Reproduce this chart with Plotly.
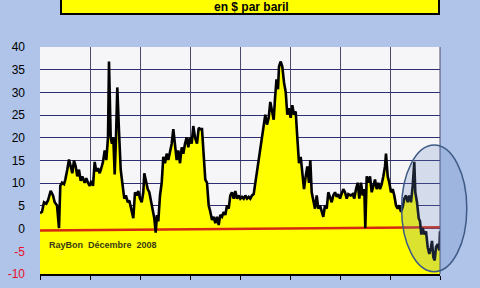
import plotly.graph_objects as go

# x: period index (50 units per year, 8 years), y: spread in $ per barrel
x_vals = [0, 2, 4, 6.3, 8, 10.7, 13, 14.7, 17, 19, 20.3, 22, 24, 25.3, 27.3, 29, 30.7, 32.3, 34, 35.7,
          37.3, 39, 40.7, 42.3, 44.7, 46.3, 48, 49.7, 51.3, 53, 54.7, 56.3, 58, 59.7, 61.3, 63, 64.7, 66.3,
          68, 69, 70.7, 72, 73.3, 74.7, 76, 77.3, 79, 80.7, 82.3, 84.3, 86, 87.7, 89.3, 91, 93.3, 95,
          96.7, 98.3, 100, 101.7, 103.3, 104.3, 106, 107.7, 109.3, 111, 112.7, 114.3, 115.7, 117, 118.3,
          120, 121.7, 123.3, 125, 126.7, 128.3, 130, 131.7, 133.3, 135, 136.7, 138.3, 140, 141.7, 143.3,
          145, 146.7, 148.3, 150, 151.7, 153.3, 155, 157, 158.7, 160.3, 162, 163.7, 165.3, 167, 168.7,
          170.3, 172, 173.7, 175.3, 177, 178.7, 180.3, 182, 183.7, 185.3, 187, 188.7, 190.3, 192, 193.7,
          195.3, 197, 198.7, 200.3, 202, 203.7, 205.3, 207, 208.7, 210.3, 212, 213.7, 215.3, 217, 218.7,
          220.3, 222, 223.7, 225.3, 227, 228.7, 230.3, 232, 233.7, 235, 236.5, 238, 239, 240.7, 242.3,
          244, 245.7, 247.3, 249, 250.7, 252.3, 254, 255.7, 257.3, 259, 260.7, 262.3, 264, 265.7, 267.3,
          269, 270.3, 271.7, 273.3, 275, 276.7, 278.3, 280, 281.7, 283.3, 285, 286.7, 288.3, 290, 291.7,
          293.3, 295, 296.7, 298.3, 300, 301.7, 303.3, 305, 306.7, 308.3, 310.7, 312.7, 314.3, 316, 317.7,
          319.3, 321, 322.7, 324.3, 325.3, 326.7, 328.3, 330, 331.7, 333.3, 335, 336.7, 338.3, 340, 341.7,
          343.3, 345, 346, 347.7, 349.3, 351, 352.7, 354.3, 356, 357.7, 359.3, 361, 362.7, 364.3, 366,
          367.7, 369.3, 371, 372.7, 374.3, 375.3, 377, 378.7, 380, 381.3, 382.7, 384.3, 386, 387.7, 389.3,
          391, 392, 393.3, 394.7, 396, 397.7, 399.3, 400]
y_vals = [3.4, 3.7, 5.8, 5.5, 6.2, 8.3, 7.3, 5.8, 5.1, 0.1, 9.4, 10.1, 9.8, 10.8, 13.0, 15.2, 13.7, 12.2, 15.0, 13.7,
          11.5, 13.0, 10.5, 11.5, 10.1, 11.1, 10.1, 9.4, 10.5, 9.4, 14.7, 12.6, 13.3, 12.2, 13.3, 14.7, 17.2, 15.1,
          20.1, 36.8, 20.1, 18.7, 20.1, 11.9, 20.0, 31.1, 21.5, 13.0, 10.1, 6.6, 7.3, 5.8, 6.2, 4.8, 2.3, 8.0,
          7.3, 8.3, 6.6, 5.8, 8.0, 12.2, 10.1, 8.7, 8.0, 5.8, 4.4, 2.3, -0.9, 3.0, 1.6,
          7.3, 10.1, 15.8, 14.4, 16.5, 15.1, 16.9, 18.7, 21.9, 18.7, 15.1, 17.2, 14.4, 17.9, 16.5,
          18.7, 20.1, 17.9, 20.1, 18.7, 22.6, 20.1, 18.7, 22.2, 21.9, 21.9, 17.2, 10.8, 10.1, 5.1,
          3.7, 1.9, 2.6, 1.2, 2.6, 0.8, 3.0, 2.6, 3.7, 3.0, 5.1, 4.4, 7.3, 8.0, 6.6,
          8.3, 6.6, 7.3, 6.6, 7.0, 6.6, 7.3, 6.6, 7.0, 6.6, 7.3, 7.6, 10.1, 12.2, 15.1,
          17.2, 19.4, 22.9, 25.1, 22.9, 24.4, 27.9, 25.5, 24.0, 28.6, 32.9, 30.7, 35.7, 36.8, 35.7,
          32.2, 30.1, 25.1, 26.5, 24.4, 27.2, 25.1, 25.8, 20.1, 14.4, 15.8, 12.2, 8.7, 11.5, 13.7,
          10.1, 15.1, 8.0, 5.8, 4.4, 7.3, 4.4, 5.1, 3.7, 2.6, 5.1, 4.4, 8.0, 6.6, 5.8,
          7.3, 8.0, 7.0, 7.6, 6.6, 8.0, 8.7, 8.0, 6.6, 7.6, 7.3, 7.6, 6.6, 8.7, 10.1,
          6.6, 10.1, 7.3, 8.7, 0.1, 11.5, 10.1, 11.5, 8.0, 9.4, 10.8, 8.7, 10.1, 8.7, 9.8,
          11.5, 13.7, 16.5, 11.5, 10.1, 8.0, 8.7, 7.3, 5.1, 4.4, 5.1, 3.7, 4.8, 6.6, 7.3,
          5.8, 7.3, 5.8, 9.4, 14.7, 8.0, 5.8, 2.3, 1.6, -1.3, 0.1, -1.3, -0.6, -4.1, -5.6,
          -4.1, -2.7, -6.3, -7.0, -4.1, -3.4, -4.8, -0.6]
trend_x = [0, 400]
trend_y = [-0.4, 0.3]
y_ticks = [-10, -5, 0, 5, 10, 15, 20, 25, 30, 35, 40]
y_floor = -10

ticktext = []
for v in y_ticks:
    if v < 0:
        ticktext.append(f"<span style='color:#e8102a'>{v}</span>")
    else:
        ticktext.append(str(v))

fig = go.Figure()
fig.add_trace(go.Scatter(x=[x_vals[0], x_vals[-1]], y=[y_floor, y_floor], mode="lines",
                         line=dict(width=0), showlegend=False, hoverinfo="skip"))
fig.add_trace(go.Scatter(x=x_vals, y=y_vals, mode="lines", fill="tonexty",
                         fillcolor="#ffff00", line=dict(width=0), showlegend=False))
fig.add_trace(go.Scatter(x=trend_x, y=trend_y, mode="lines",
                         line=dict(color="#d42a10", width=2.5), showlegend=False))
fig.add_trace(go.Scatter(x=x_vals, y=y_vals, mode="lines",
                         line=dict(color="#000000", width=2.6), showlegend=False))

fig.update_layout(
    width=480, height=288,
    margin=dict(l=40, r=40, t=47, b=7),
    paper_bgcolor="#afc4e8",
    plot_bgcolor="#f6f6f8",
    font=dict(family="Liberation Sans, Arial, sans-serif", color="#000000"),
    xaxis=dict(range=[0, 400], dtick=50, tick0=0, showticklabels=False,
               showgrid=True, gridcolor="#4a4a6a", gridwidth=1,
               ticks="outside", ticklen=4, tickcolor="#000000",
               showline=True, linecolor="#000000", linewidth=2,
               zeroline=False, fixedrange=True),
    yaxis=dict(range=[-10, 40], tickvals=y_ticks, ticktext=ticktext,
               showgrid=True, gridcolor="#2e2e70", gridwidth=1,
               tickfont=dict(size=12, family="Liberation Sans, Arial, sans-serif", color="#000000"),
               ticklabelstandoff=14, ticks="", zeroline=False, showline=False,
               fixedrange=True),
    shapes=[
        dict(type="rect", xref="paper", yref="paper", x0=0.0525, x1=0.9975, y0=1.145, y1=1.3,
             fillcolor="#ffff00", line=dict(color="#000000", width=2), layer="above"),
        dict(type="line", xref="paper", yref="paper", x0=1, x1=1, y0=0, y1=1,
             line=dict(color="#4a4a6a", width=1)),
        dict(type="circle", xref="paper", yref="paper", x0=0.904, x1=1.067, y0=0.01, y1=0.568,
             fillcolor="rgba(105,135,195,0.24)", line=dict(color="#3d5b86", width=1.5), layer="above"),
    ],
    annotations=[
        dict(text="<b>en $ par baril</b>", xref="paper", yref="paper", x=0.5275, y=1.175,
             showarrow=False, font=dict(size=12, color="#000000"), xanchor="center", yanchor="middle"),
        dict(text="<b>RayBon  Décembre  2008</b>", xref="paper", yref="paper", x=0.0175, y=0.128,
             showarrow=False, font=dict(size=9, color="#3a3a10"), xanchor="left", yanchor="middle"),
    ],
)

fig.write_html("out.html")
